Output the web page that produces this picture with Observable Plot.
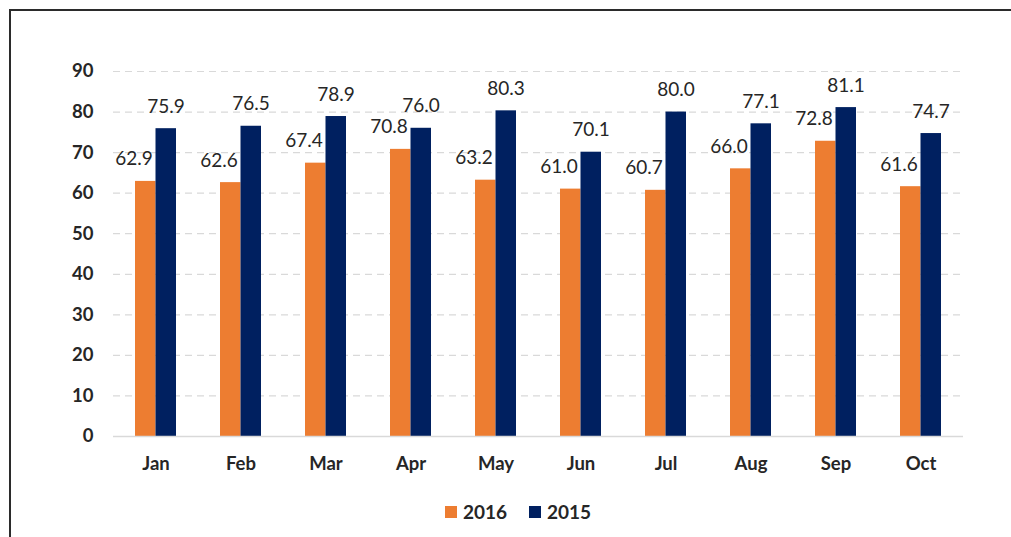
<!DOCTYPE html>
<html>
<head>
<meta charset="utf-8">
<script src="https://cdn.jsdelivr.net/npm/d3@7"></script>
<script src="https://cdn.jsdelivr.net/npm/@observablehq/plot@0.6"></script>
<style>
  html, body { margin: 0; padding: 0; background: #fff; }
  body { width: 1011px; height: 537px; position: relative; overflow: hidden; font-family: Lato, "Open Sans", sans-serif; }
  #frame { position: absolute; left: 9px; top: 9px; right: -5px; bottom: -5px; border-left: 2px solid #2b2b2b; border-top: 2px solid #2b2b2b; pointer-events: none; }
  #chart { position: absolute; left: 0; top: 0; }
  #legend { position: absolute; left: 0; top: 480px; width: 1036px; height: 57px; display: flex; justify-content: center; align-items: center; gap: 22px; font-weight: bold; font-size: 19px; color: #262626; padding-top: 6px; box-sizing: border-box; }
  .item { display: flex; align-items: center; gap: 6px; }
  .sw { width: 12px; height: 12px; display: inline-block; }
</style>
</head>
<body>
<div id="chart"></div>
<div id="legend"></div>
<div id="frame"></div>
<script>
const months = ["Jan","Feb","Mar","Apr","May","Jun","Jul","Aug","Sep","Oct"];
const series = ["2016","2015"];
const values2016 = [62.9, 62.6, 67.4, 70.8, 63.2, 61.0, 60.7, 66.0, 72.8, 61.6];
const values2015 = [75.9, 76.5, 78.9, 76.0, 80.3, 70.1, 80.0, 77.1, 81.1, 74.7];
const yTicks = [0,10,20,30,40,50,60,70,80,90];
const colors = ["#ED7D31", "#002060"];

const d16 = months.map((m, i) => ({month: m, value: values2016[i]}));
const d15 = months.map((m, i) => ({month: m, value: values2015[i]}));

const font = "Lato, 'Open Sans', sans-serif";

const plot = Plot.plot({
  width: 1011,
  height: 480,
  marginLeft: 113,
  marginRight: 48,
  marginTop: 71,
  marginBottom: 44,
  style: {fontFamily: font, background: "transparent", overflow: "visible"},
  x: {domain: months, padding: 0, label: null},
  y: {domain: [0, 90], label: null},
  marks: [
    Plot.ruleY(yTicks.filter(t => t > 0), {stroke: "#d9d9d9", strokeWidth: 1.2, strokeDasharray: "7,5", strokeOpacity: 1}),
    Plot.barY(d16, {x: "month", y: "value", fill: colors[0], insetLeft: 22, insetRight: 42.5}),
    Plot.barY(d15, {x: "month", y: "value", fill: colors[1], insetLeft: 42.5, insetRight: 22}),
    Plot.ruleY([0], {stroke: "#d9d9d9", strokeWidth: 1.5}),
    Plot.axisX({tickSize: 0, tickPadding: 20, fontSize: 18.5, fontWeight: "bold", fill: "#262626", label: null}),
    Plot.axisY({ticks: yTicks, tickSize: 0, tickPadding: 20, fontSize: 18.5, fontWeight: "bold", fill: "#262626", label: null}),
    Plot.text(d16, {x: "month", y: "value", text: d => d.value.toFixed(1), dx: -22, dy: -22, fontSize: 19, fill: "#262626", lineAnchor: "middle"}),
    Plot.text(d15, {x: "month", y: "value", text: d => d.value.toFixed(1), dx: 10, dy: -22, fontSize: 19, fill: "#262626", lineAnchor: "middle"})
  ]
});
document.getElementById("chart").appendChild(plot);

const legend = document.getElementById("legend");
series.forEach((s, i) => {
  const it = document.createElement("span");
  it.className = "item";
  it.innerHTML = `<span class="sw" style="background:${colors[i]}"></span><span>${s}</span>`;
  legend.appendChild(it);
});
</script>
</body>
</html>
